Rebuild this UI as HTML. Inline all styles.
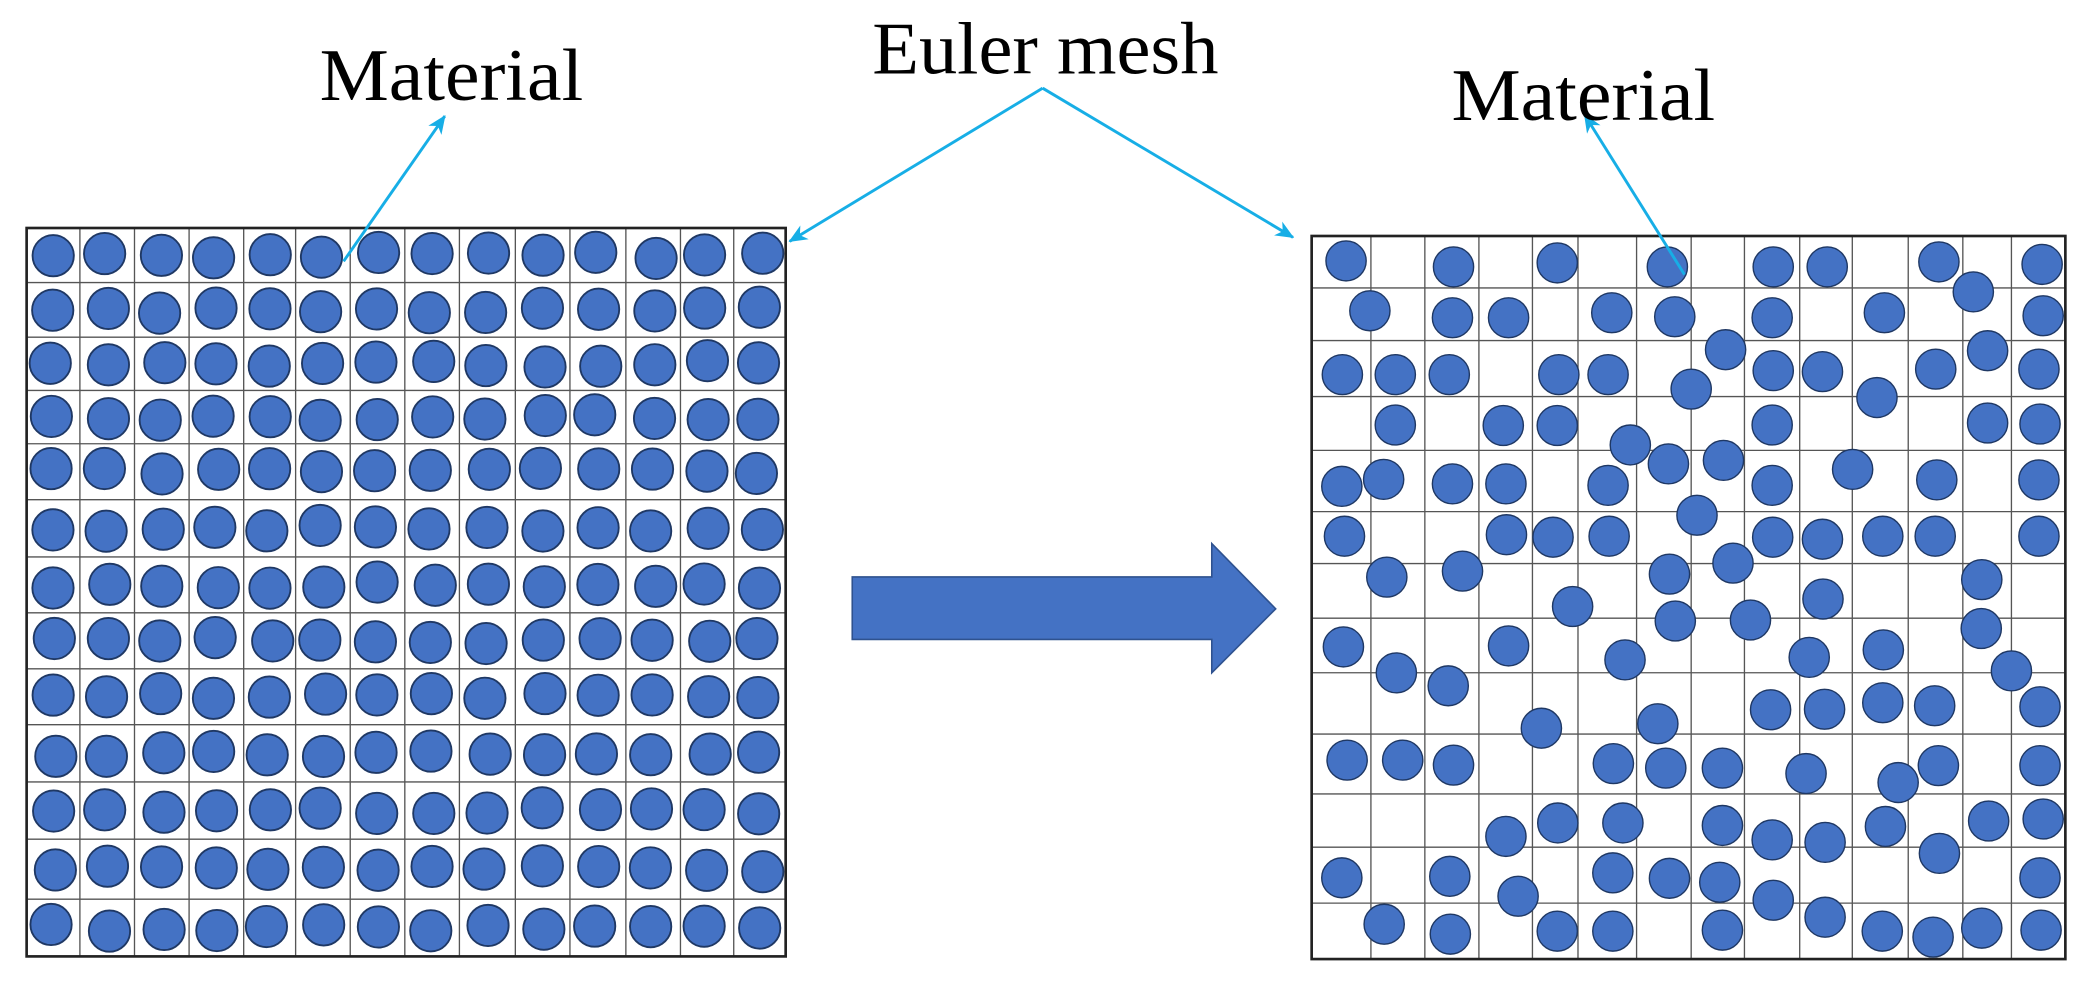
<!DOCTYPE html>
<html><head><meta charset="utf-8"><style>
html,body{margin:0;padding:0;background:#fff;}
svg{display:block;}
text{font-family:"Liberation Serif",serif;fill:#000;}
</style></head><body>
<svg id="s" width="2088" height="986" viewBox="0 0 1568 740" xmlns="http://www.w3.org/2000/svg">
<defs>
<marker id="ah" markerWidth="14" markerHeight="12" refX="13" refY="6" orient="auto" markerUnits="userSpaceOnUse">
<path d="M0,0 L14,6 L0,12 L4,6 Z" fill="#17AEE6"/>
</marker>
</defs>
<rect x="0" y="0" width="1568" height="740" fill="#fff"/>
<g id="leftgrid"></g>
<g id="rightgrid"></g>
<g id="rc" transform="translate(942.07,151.53) scale(0.3975,0.3745)" fill="#4472C4" stroke="#1F3864" stroke-width="1.4"></g>
<polygon points="640,433 910,433 910,408 958,457 910,505 910,480 640,480" fill="#4472C4" stroke="#2F528F" stroke-width="1.2"/>
<g stroke="#17AEE6" stroke-width="2.2" fill="none">
<line x1="258" y1="196" x2="334" y2="87" marker-end="url(#ah)"/>
<line x1="783" y1="66" x2="593" y2="181" marker-end="url(#ah)"/>
<line x1="783" y1="66" x2="971" y2="178" marker-end="url(#ah)"/>
<line x1="1265" y1="206" x2="1190" y2="86" marker-end="url(#ah)"/>
</g>
<text x="240" y="75" font-size="56" textLength="198" lengthAdjust="spacingAndGlyphs">Material</text>
<text x="655" y="55" font-size="56" textLength="260" lengthAdjust="spacingAndGlyphs">Euler mesh</text>
<text x="1090" y="90" font-size="56" textLength="198" lengthAdjust="spacingAndGlyphs">Material</text>
</svg>
<script>
var NS="http://www.w3.org/2000/svg";
function el(p,n,a){var e=document.createElementNS(NS,n);for(var k in a)e.setAttribute(k,a[k]);p.appendChild(e);return e;}
var lg=document.getElementById('leftgrid');
var cx=[20,60,101,142,183,222,263,304,345,387,428,470,511,551,590];
var ry=[171,212,253,293,333,375,418,460,502,544,587,630,675,718];
for(var i=1;i<cx.length-1;i++)el(lg,'line',{x1:cx[i],y1:171,x2:cx[i],y2:718,stroke:'#555','stroke-width':1});
for(var j=1;j<ry.length-1;j++)el(lg,'line',{x1:20,y1:ry[j],x2:590,y2:ry[j],stroke:'#555','stroke-width':1});
el(lg,'rect',{x:20,y:171,width:570,height:547,fill:'none',stroke:'#222','stroke-width':2});
var seed=7;function rnd(){seed=(seed*9301+49297)%233280;return seed/233280-0.5;}
for(var j=0;j<13;j++)for(var i=0;i<14;i++){
 var x=(cx[i]+cx[i+1])/2+rnd()*5,y=(ry[j]+ry[j+1])/2+rnd()*5;
 el(lg,'circle',{cx:x,cy:y,r:15.5,fill:'#4472C4',stroke:'#1F3864','stroke-width':1.4});
}
var rg=document.getElementById('rightgrid');
var rx=[1029.5,1070,1110.6,1150.8,1185,1229,1270,1310,1351.5,1391,1433,1474,1510.5];
var rr=[216,255.5,297.6,338,384,423,464,505,551,596,636,678];
rx.forEach(function(x){el(rg,'line',{x1:x,y1:177,x2:x,y2:720,stroke:'#555','stroke-width':1});});
rr.forEach(function(y){el(rg,'line',{x1:985,y1:y,x2:1551,y2:y,stroke:'#555','stroke-width':1});});
el(rg,'rect',{x:985,y:177,width:566,height:543,fill:'none',stroke:'#222','stroke-width':2});
var pts=[[173,118],[376,130],[572,122],[780,130],[980,130],[1082,130],[1293,120],[1488,125],[1358,180],
[218,218],[374,232],[480,232],[675,222],[794,230],[978,232],[1190,222],[1490,228],[890,296],[1385,298],
[166,346],[266,346],[368,346],[575,346],[668,346],[980,338],[1073,340],[1287,335],[1482,335],[825,375],[1176,392],
[266,447],[470,448],[572,448],[978,447],[1385,443],[1484,445],[710,487],
[165,570],[244,556],[374,565],[475,565],[668,568],[782,525],[886,518],[978,568],[1130,536],[1289,557],[1482,557],[836,628],
[170,670],[476,667],[564,672],[670,670],[979,672],[1073,676],[1187,670],[1286,670],[1482,670],[904,724],
[250,752],[393,740],[784,746],[1374,757],[1074,796],[601,811],[795,840],[937,838],
[168,892],[480,890],[268,944],[366,970],[700,918],[1048,913],[1188,898],[1373,855],[1430,940],
[975,1018],[1077,1017],[1187,1004],[1285,1010],[1484,1012],[542,1055],[762,1046],
[175,1119],[280,1119],[376,1129],[678,1126],[777,1135],[884,1135],[1042,1146],[1216,1164],[1292,1130],[1484,1130],
[475,1272],[573,1245],[696,1245],[884,1250],[978,1279],[1078,1284],[1192,1252],[1387,1241],[1490,1237],[1294,1306],
[165,1355],[369,1352],[677,1345],[784,1356],[879,1364],[498,1392],[980,1400],[1484,1355],
[245,1448],[370,1468],[572,1462],[677,1462],[884,1460],[1078,1434],[1186,1462],[1282,1474],[1374,1456],[1486,1460]];
var rc=document.getElementById('rc');
pts.forEach(function(p){el(rc,'ellipse',{cx:p[0],cy:p[1],rx:38,ry:40,'vector-effect':'non-scaling-stroke'});});
</script>
</body></html>
